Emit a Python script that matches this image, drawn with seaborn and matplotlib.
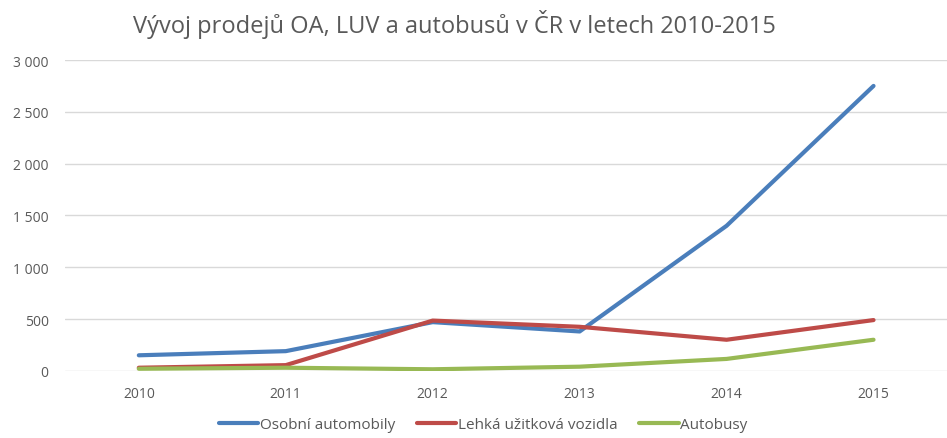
import matplotlib
matplotlib.use("Agg")
import matplotlib.pyplot as plt
import pandas as pd
import seaborn as sns
from matplotlib.ticker import FuncFormatter
from matplotlib.lines import Line2D

# data
years = [2010, 2011, 2012, 2013, 2014, 2015]
osobni = [150, 190, 470, 380, 1400, 2750]
lehka = [30, 55, 485, 425, 300, 490]
autobusy = [20, 30, 15, 40, 115, 300]

series = {
    "Osobní automobily": osobni,
    "Lehká užitková vozidla": lehka,
    "Autobusy": autobusy,
}
colors = {
    "Osobní automobily": "#4a7ebb",
    "Lehká užitková vozidla": "#be4b48",
    "Autobusy": "#98b954",
}

df = pd.concat(
    [pd.DataFrame({"Rok": years, "Prodej": vals, "Kategorie": name})
     for name, vals in series.items()],
    ignore_index=True,
)

sns.set_style("white")
plt.rcParams["font.family"] = ["Open Sans", "DejaVu Sans"]

fig = plt.figure(figsize=(9.47, 4.39), dpi=100)
ax = fig.add_axes([0.069, 0.153, 0.931, 0.708])

sns.lineplot(data=df, x="Rok", y="Prodej", hue="Kategorie",
             palette=colors, linewidth=3, ax=ax, legend=False)

ax.set_xlim(2009.5, 2015.5)
ax.set_ylim(0, 3000)
ax.set_yticks(range(0, 3001, 500))
ax.set_xticks(years)
ax.yaxis.set_major_formatter(FuncFormatter(lambda v, p: f"{int(v):,}".replace(",", " ")))
ax.grid(axis="y", color="#d9d9d9", linewidth=1)
ax.set_axisbelow(True)
for s in ax.spines.values():
    s.set_visible(False)
ax.tick_params(length=0, labelsize=10, colors="#595959", pad=11)
ax.tick_params(axis="y", pad=12)
ax.set_xlabel("")
ax.set_ylabel("")

fig.text(0.48, 0.945, "Vývoj prodejů OA, LUV a autobusů v ČR v letech 2010-2015",
         ha="center", va="center", fontsize=17, color="#595959")

handles = [Line2D([0], [0], color=colors[n], lw=3) for n in series]
fig.legend(handles, list(series), loc="center", bbox_to_anchor=(0.51, 0.03),
           ncol=3, frameon=False, fontsize=11, handlelength=2.6,
           handletextpad=0.1, columnspacing=1.4, labelcolor="#595959")

fig.savefig("out.png", dpi=100)
